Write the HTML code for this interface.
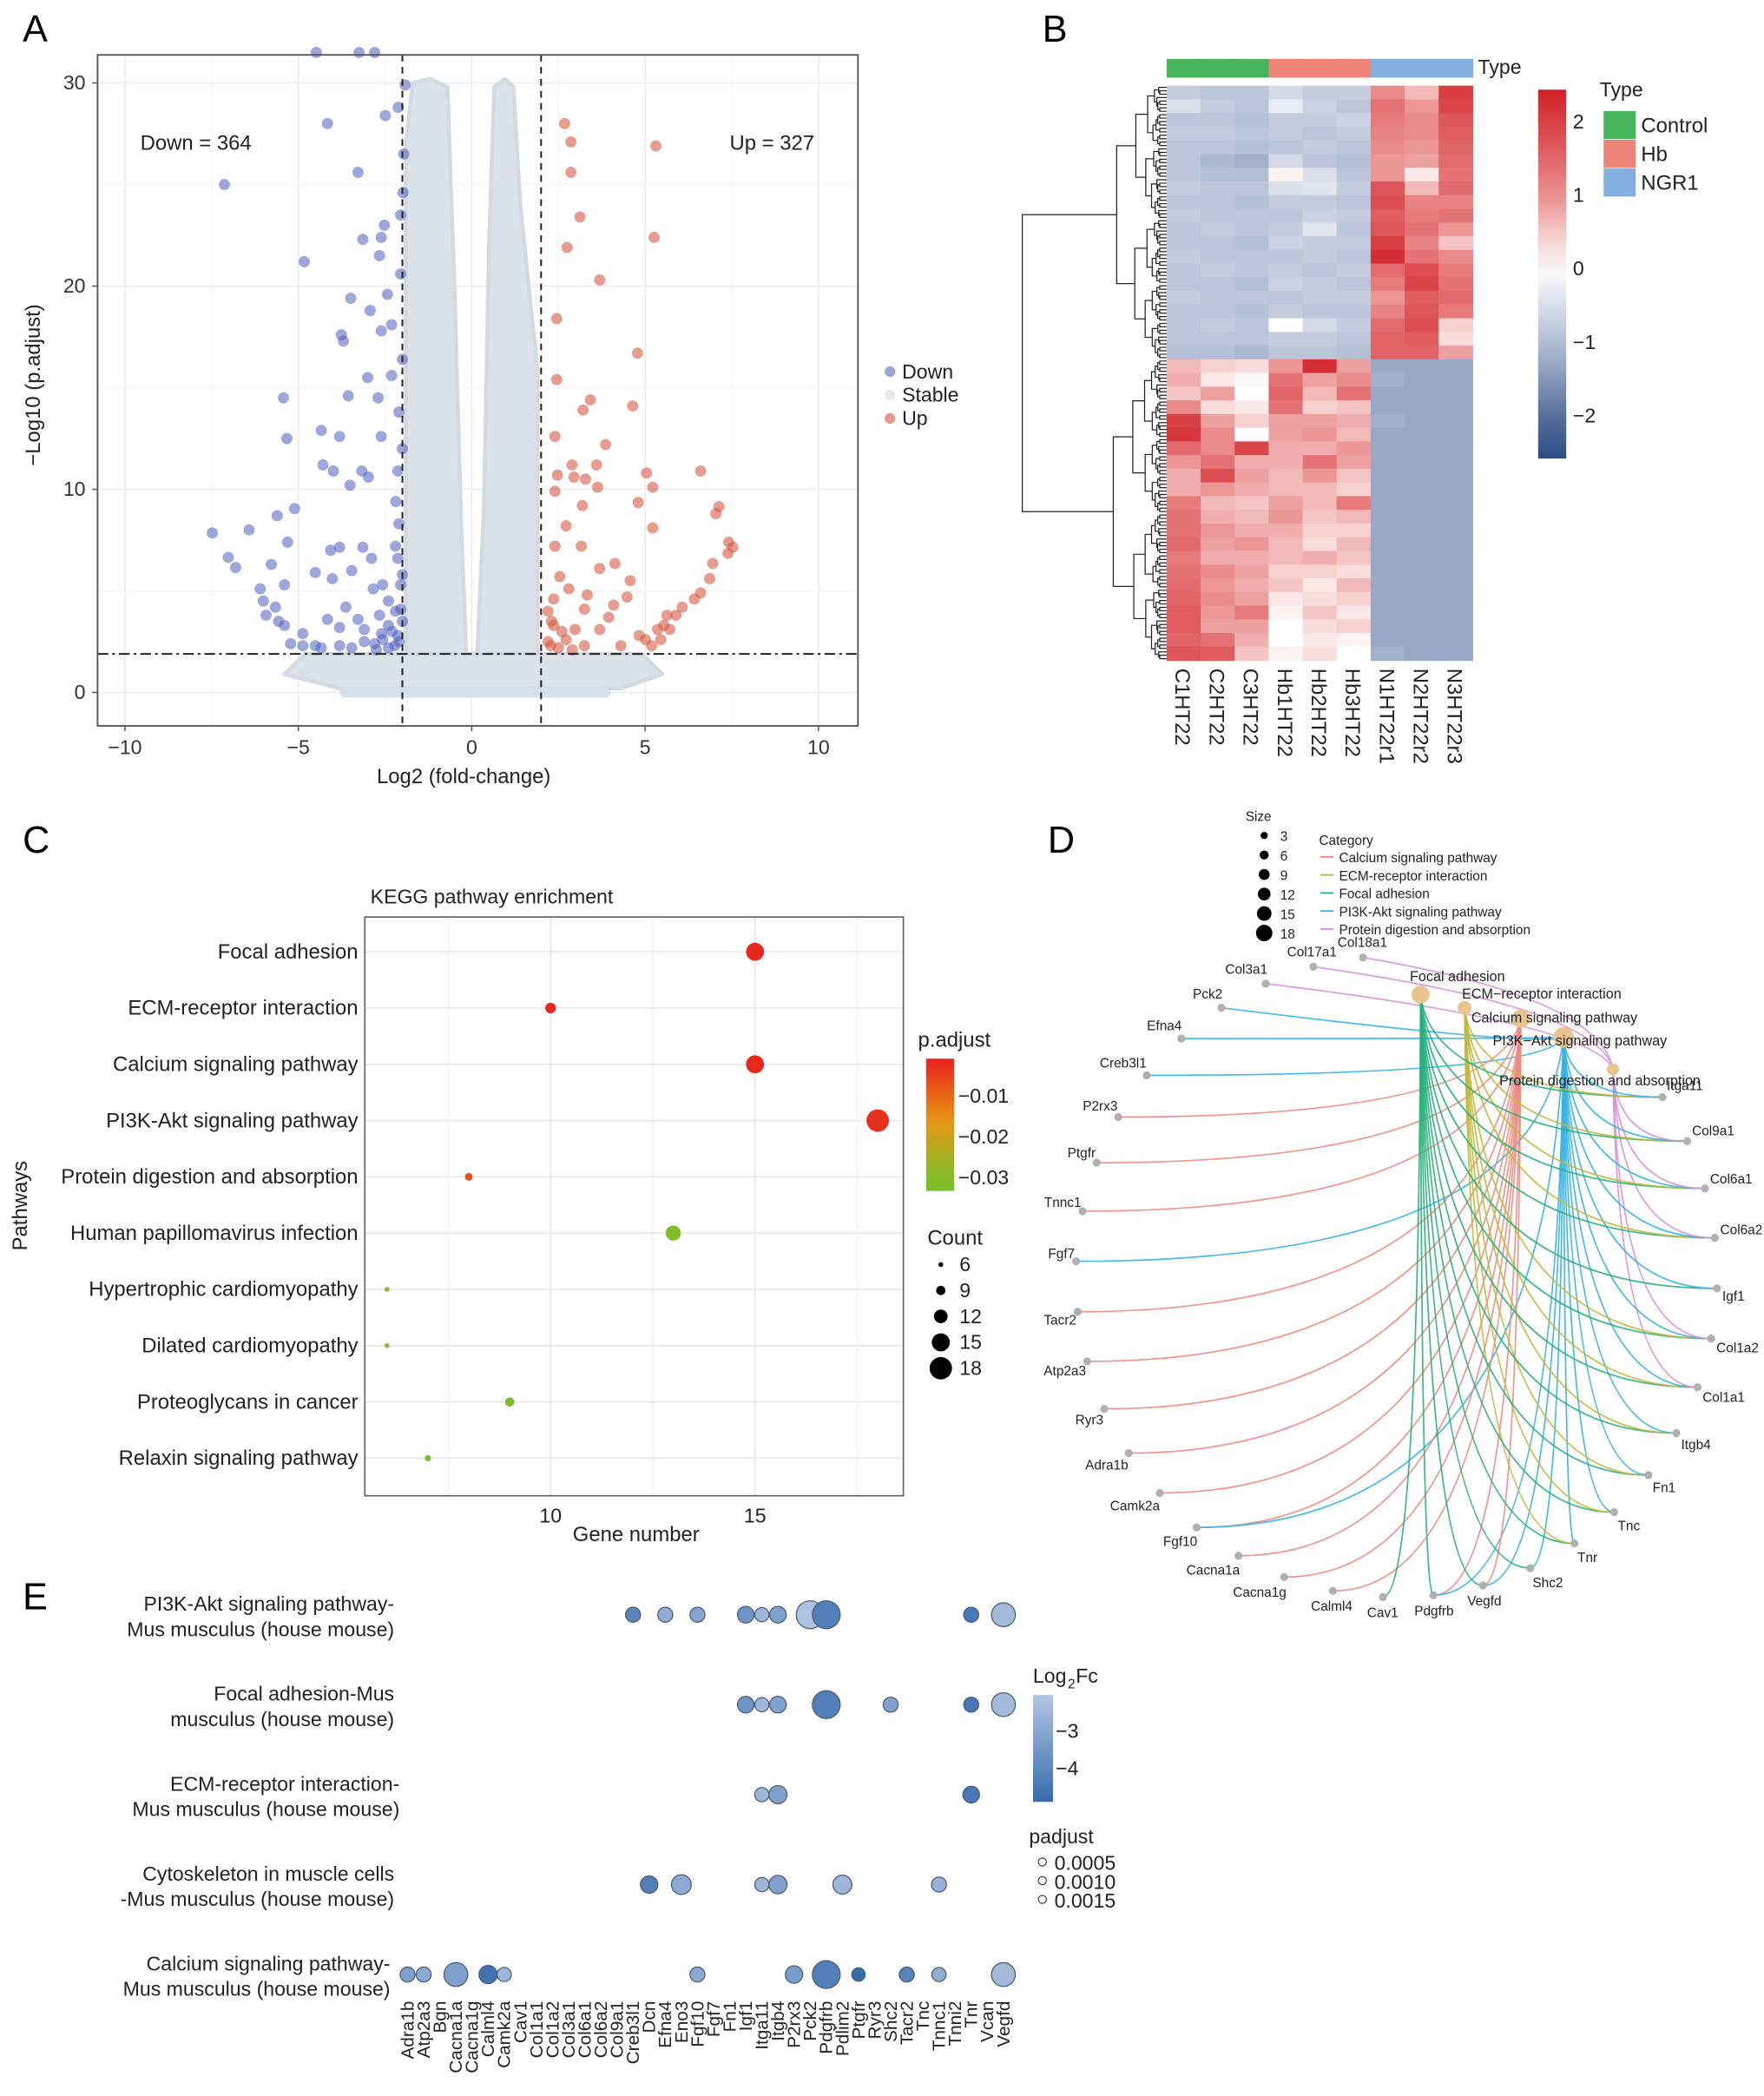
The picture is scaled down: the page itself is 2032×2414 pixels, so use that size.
<!DOCTYPE html>
<html><head><meta charset="utf-8"><style>
html,body{margin:0;padding:0;background:#fff;}
svg{display:block;font-family:"Liberation Sans",Arial,sans-serif;}
</style></head><body>
<svg id="fig" xmlns="http://www.w3.org/2000/svg" width="2032" height="2414" viewBox="0 0 1320 1568">
<rect x="0" y="0" width="1320" height="1568" fill="#fff"/>
<g font-size="28" fill="#000">
<text x="17" y="31">A</text>
<text x="780" y="31">B</text>
<text x="17" y="638">C</text>
<text x="784" y="638">D</text>
<text x="17" y="1204">E</text>
</g>
<g id="pA"></g>
<g id="pB"></g>
<g id="pC"></g>
<g id="pD"></g>
<g id="pE"></g>
</svg>
<script>
// ===== Panel A data =====
const downX=[-4.48,-3.25,-2.8,-7.13,-4.16,-3.28,-2.49,-2.12,-1.92,-1.96,-4.83,-3.14,-2.61,-2.66,-2.52,-2.05,-3.49,-2.93,-2.43,-3.76,-3.7,-2.61,-2.31,-3.0,-3.56,-2.7,-2.31,-5.43,-5.33,-4.34,-3.81,-2.61,-4.29,-3.99,-3.17,-2.98,-3.51,-2.13,-2.19,-5.11,-5.61,-6.42,-7.48,-7.02,-6.81,-5.31,-5.78,-6.1,-6.01,-5.66,-5.4,-4.51,-4.07,-3.81,-3.14,-2.89,-3.46,-4.02,-2.84,-2.57,-5.4,-4.87,-4.51,-4.16,-3.81,-3.63,-3.28,-2.66,-2.4,-2.13,-2.05,-2.13,-2.57,-3.1,-3.81,-4.87,-5.22,-5.57,-5.93,-2.75,-2.22,-2.05,-2.4,-3.1,-3.46,-4.34,-2.1,-2.3,-2.0,-2.2,-2.4,-2.6,-2.8,-2.0,-2.2,-2.1,-2.0,-2.1,-2.0,-2.05,-1.98];
const downY=[31.5,31.5,31.5,25.0,28.0,25.6,28.4,28.8,29.9,26.5,21.2,22.3,22.4,21.5,23.0,23.5,19.4,18.8,19.6,17.6,17.3,17.8,18.1,15.5,14.6,14.5,15.6,14.5,12.5,12.9,12.6,12.6,11.2,10.9,10.9,10.6,10.2,10.9,9.4,9.05,8.7,8.0,7.85,6.65,6.15,7.4,6.3,5.1,4.5,4.2,5.3,5.9,7.0,7.15,7.15,6.6,6.0,5.6,5.1,5.3,3.3,2.9,2.3,3.6,3.2,4.2,3.6,3.8,4.5,6.6,5.3,2.8,2.6,2.5,2.3,2.3,2.4,3.5,3.8,2.1,2.3,4.1,3.3,3.1,2.2,2.2,2.5,3.0,3.5,4.0,2.2,2.9,2.4,5.8,7.2,8.3,12.0,13.8,16.4,20.6,24.6];
const upX=[2.68,2.86,5.31,2.86,3.12,2.75,5.26,3.69,2.45,4.78,2.45,3.42,3.21,4.64,2.4,3.86,2.89,3.6,2.47,2.95,3.28,5.04,6.6,3.63,5.22,2.4,3.19,4.8,7.13,7.04,5.22,2.72,7.41,7.53,7.39,6.95,6.86,6.6,6.07,5.63,5.36,5.01,4.13,3.69,3.16,2.4,2.54,2.8,3.33,4.57,4.48,4.09,3.25,3.95,3.69,2.98,2.36,2.72,3.25,4.3,4.83,5.54,5.89,6.42,2.28,2.36,5.19,5.45,5.71,2.2,2.3,2.2,2.5,2.6,2.9];
const upY=[28.0,27.1,26.9,25.6,23.4,21.9,22.4,20.3,18.4,16.7,15.4,14.4,13.9,14.1,12.6,12.2,11.2,11.2,10.7,10.6,10.5,10.8,10.9,10.1,10.1,9.9,9.2,9.35,9.15,8.8,8.1,8.2,7.4,7.15,6.85,6.35,5.6,4.9,4.2,3.8,3.1,2.6,6.35,6.1,7.2,7.2,5.7,5.1,4.8,5.5,4.7,4.3,4.1,3.7,3.1,3.1,3.3,2.6,2.3,2.3,2.8,3.3,3.8,4.6,2.3,4.6,2.3,2.6,3.1,2.5,3.5,4.0,2.2,3.0,2.1];
const volXTicks=[-10,-5,0,5,10];
const volYTicks=[0,10,20,30];
const fcCut=[-2,2];
const padjCut=[1.9];
// ===== Panel B data =====
const heatSamples=["C1HT22","C2HT22","C3HT22","Hb1HT22","Hb2HT22","Hb3HT22","N1HT22r1","N2HT22r2","N3HT22r3"];
const heatGroups=["Control","Control","Control","Hb","Hb","Hb","NGR1","NGR1","NGR1"];
const heatValues=[
[-0.8,-0.9,-0.9,-0.6,-0.8,-0.8,1.0,0.6,2.0],[-0.5,-0.8,-0.9,-0.3,-0.7,-0.9,1.3,0.9,1.9],[-0.9,-0.9,-1.0,-0.8,-0.8,-0.7,1.2,1.0,1.7],[-0.8,-0.8,-0.9,-0.8,-0.9,-0.8,1.1,1.0,1.6],[-0.9,-0.9,-1.0,-0.9,-0.8,-0.9,1.0,0.9,1.5],[-0.9,-1.1,-1.2,-0.6,-0.9,-1.0,0.9,0.8,1.4],[-0.9,-1.0,-1.0,0.1,-0.5,-0.9,0.9,0.2,1.3],[-0.8,-0.9,-0.9,-0.5,-0.4,-0.8,1.7,0.6,1.4],[-0.9,-0.9,-1.0,-0.8,-0.8,-0.9,1.8,1.1,1.1],[-0.8,-0.9,-0.9,-0.9,-0.7,-0.8,1.6,1.2,1.3],[-0.9,-0.8,-0.9,-0.8,-0.4,-0.9,1.7,1.3,0.9],[-0.9,-0.9,-1.0,-0.7,-0.8,-0.8,2.0,1.1,0.5],[-0.8,-0.9,-0.9,-0.9,-0.8,-0.9,2.2,1.3,1.0],[-0.9,-0.8,-0.9,-0.8,-0.9,-0.8,1.4,1.8,1.2],[-0.9,-0.9,-1.0,-0.7,-0.8,-0.9,1.2,1.9,1.3],[-0.8,-0.9,-0.9,-0.9,-0.8,-0.8,0.9,1.6,1.4],[-0.9,-0.9,-1.0,-0.8,-0.9,-0.9,1.1,1.7,1.2],[-0.9,-0.8,-0.9,0.0,-0.6,-0.8,1.4,1.8,0.4],[-0.9,-0.9,-0.9,-0.8,-0.8,-0.9,1.5,1.6,0.3],[-1.0,-1.0,-1.1,-0.9,-0.9,-1.0,1.5,1.5,0.8],
[0.6,0.4,0.3,0.9,2.2,0.8,-1.3,-1.3,-1.3],[0.7,0.2,-0.1,1.3,0.8,1.0,-1.2,-1.3,-1.3],[0.5,0.8,0.0,1.5,0.6,1.3,-1.3,-1.3,-1.3],[1.0,0.3,0.2,1.3,0.4,0.5,-1.3,-1.3,-1.3],[2.0,0.8,0.4,0.8,0.8,0.7,-1.2,-1.3,-1.3],[2.1,1.0,0.0,0.8,0.9,0.6,-1.3,-1.3,-1.3],[1.4,1.0,1.9,0.7,0.7,0.9,-1.3,-1.3,-1.3],[0.9,1.3,0.7,0.7,1.3,0.8,-1.3,-1.3,-1.3],[0.7,1.8,0.8,0.6,0.9,0.5,-1.3,-1.3,-1.3],[0.7,0.9,0.7,0.6,0.6,0.4,-1.3,-1.3,-1.3],[1.2,0.6,0.5,0.8,0.6,1.2,-1.3,-1.3,-1.3],[1.3,0.7,0.6,0.9,0.5,0.6,-1.3,-1.3,-1.3],[1.3,0.9,0.7,0.7,0.4,0.4,-1.3,-1.3,-1.3],[1.4,0.8,0.9,0.6,0.3,0.6,-1.3,-1.3,-1.3],[1.2,0.7,0.7,0.6,0.7,0.5,-1.3,-1.3,-1.3],[1.3,1.0,0.8,0.4,0.4,0.3,-1.3,-1.3,-1.3],[1.4,0.9,0.7,0.5,0.2,0.6,-1.3,-1.3,-1.3],[1.5,1.0,0.8,0.2,0.3,0.4,-1.3,-1.3,-1.3],[1.6,0.9,1.2,0.1,0.5,0.2,-1.3,-1.3,-1.3],[1.6,0.8,0.8,0.0,0.3,0.4,-1.3,-1.3,-1.3],[1.5,1.3,0.7,0.0,0.2,0.1,-1.3,-1.3,-1.3],[1.7,1.6,0.5,0.1,0.3,0.0,-1.2,-1.3,-1.3]];
const heatTicks=[2,1,0,-1,-2];
// ===== Panel C data =====
const keggPathways=["Focal adhesion","ECM-receptor interaction","Calcium signaling pathway","PI3K-Akt signaling pathway","Protein digestion and absorption","Human papillomavirus infection","Hypertrophic cardiomyopathy","Dilated cardiomyopathy","Proteoglycans in cancer","Relaxin signaling pathway"];
const keggCounts=[15,10,15,18,8,13,6,6,9,7];
const keggPadj=[-0.002,-0.002,-0.002,-0.003,-0.007,-0.030,-0.027,-0.027,-0.031,-0.031];
const keggXTicks=[10,15];
const keggPTicks=[-0.01,-0.02,-0.03];
const keggCountLegend=[6,9,12,15,18];
// ===== Panel D data =====
const cnetCategories=["Focal adhesion","ECM−receptor interaction","Calcium signaling pathway","PI3K−Akt signaling pathway","Protein digestion and absorption"];
const cnetCatSizes=[15,10,15,18,8];
const cnetGenes=["Col18a1","Col17a1","Col3a1","Pck2","Efna4","Creb3l1","P2rx3","Ptgfr","Tnnc1","Fgf7","Tacr2","Atp2a3","Ryr3","Adra1b","Camk2a","Fgf10","Cacna1a","Cacna1g","Calml4","Cav1","Pdgfrb","Vegfd","Shc2","Tnr","Tnc","Fn1","Itgb4","Col1a1","Col1a2","Igf1","Col6a2","Col6a1","Col9a1","Itga11"];
const cnetLinks=[[4],[4],[4],[3],[3],[3],[2],[2],[2],[3],[2],[2],[2],[2],[2],[2,3],[2],[2],[2],[0],[0,2,3],[0,2,3],[0,3],[0,1,3],[0,1,3],[0,1,3],[0,1,3],[0,1,3,4],[0,1,3,4],[0,3],[0,1,3,4],[0,1,3,4],[0,1,3,4],[0,1,3]];
const cnetSizeLegend=[3,6,9,12,15,18];
// ===== Panel E data =====
const eGenes=["Adra1b","Atp2a3","Bgn","Cacna1a","Cacna1g","Calml4","Camk2a","Cav1","Col1a1","Col1a2","Col3a1","Col6a1","Col6a2","Col9a1","Creb3l1","Dcn","Efna4","Eno3","Fgf10","Fgf7","Fn1","Igf1","Itga11","Itgb4","P2rx3","Pck2","Pdgfrb","Pdlim2","Ptgfr","Ryr3","Shc2","Tacr2","Tnc","Tnnc1","Tnni2","Tnr","Vcan","Vegfd"];
const ePathways=[["PI3K-Akt signaling pathway-","Mus musculus (house mouse)"],["Focal adhesion-Mus","musculus (house mouse)"],["ECM-receptor interaction-","Mus musculus (house mouse)"],["Cytoskeleton in muscle cells","-Mus musculus (house mouse)"],["Calcium signaling pathway-","Mus musculus (house mouse)"]];
const eRowGenes=[["Creb3l1","Efna4","Fgf10","Igf1","Itga11","Itgb4","Pck2","Pdgfrb","Tnr","Vegfd"],["Igf1","Itga11","Itgb4","Pdgfrb","Shc2","Tnr","Vegfd"],["Itga11","Itgb4","Tnr"],["Dcn","Eno3","Itga11","Itgb4","Pdlim2","Tnnc1"],["Adra1b","Atp2a3","Cacna1a","Calml4","Camk2a","Fgf10","P2rx3","Pdgfrb","Ptgfr","Tacr2","Tnnc1","Vegfd"]];
const eRowFc=[[-4.2,-3.2,-3.4,-3.8,-3.0,-3.5,-2.7,-4.3,-4.5,-2.9],[-3.8,-3.0,-3.5,-4.3,-3.5,-4.5,-2.9],[-3.0,-3.5,-4.5],[-4.3,-3.3,-3.0,-3.5,-3.0,-3.1],[-3.5,-3.3,-3.5,-4.6,-3.0,-3.3,-3.6,-4.3,-4.8,-4.2,-3.2,-2.9]];
const eRowSize=[[1,1,1,1.2,0.9,1.2,2.6,2.6,1,2.1],[1.2,0.9,1.2,2.6,1,1,2.1],[0.9,1.4,1.2],[1.3,1.6,0.9,1.4,1.5,1],[1,1,2.1,1.4,0.9,1,1.3,2.6,0.8,1,0.9,2.1]];
const eFcTicks=[-3,-4];
const ePadjLegend=["0.0005","0.0010","0.0015"];

const NS="http://www.w3.org/2000/svg";
function mk(parent,tag,attrs,text){const e=document.createElementNS(NS,tag);for(const k in attrs)e.setAttribute(k,attrs[k]);if(text!==undefined)e.textContent=text;parent.appendChild(e);return e;}

// ================= PANEL A =================
(function(){
const g=document.getElementById('pA');
const X0=73,X1=642,Y0=41,Y1=543;
const sx=v=>353+v*25.95, sy=v=>518-v*15.2;
for(let v=-10;v<=10;v+=2.5){const e=mk(g,'line',{x1:sx(v),x2:sx(v),y1:Y0,y2:Y1,stroke:v%5===0?'#ebebeb':'#f5f5f5','stroke-width':1});}
for(let v=0;v<=30;v+=5){const e=mk(g,'line',{x1:X0,x2:X1,y1:sy(v),y2:sy(v),stroke:v%10===0?'#ebebeb':'#f5f5f5','stroke-width':1});}
const st='#dce2e9';
const poly=(pts,name)=>{const e=mk(g,'polygon',{points:pts.map(p=>sx(p[0])+','+sy(p[1])).join(' '),fill:st,stroke:'#d3dae2','stroke-width':3,'stroke-linejoin':'round'});};
poly([[-1.9,1.5],[-1.9,27],[-1.7,30],[-1.2,30.2],[-0.7,29.8],[-0.5,20],[-0.3,8],[-0.15,1.5]],'stable-cloud-left');
poly([[0.15,1.5],[0.35,9],[0.5,22],[0.65,29.8],[0.95,30.2],[1.2,29.8],[1.4,24],[1.7,19],[1.9,16],[1.9,1.5]],'stable-cloud-right');
poly([[-5.4,0.9],[-4.8,1.9],[4.9,1.9],[5.5,0.9],[4.3,0.2],[-3.8,0.2]],'stable-cloud-bottom');
const bb=mk(g,'rect',{x:sx(-3.8),y:sy(0)-4,width:sx(4.0)-sx(-3.8),height:8,fill:'#d6e0ea',rx:4});
downX.forEach((x,i)=>{const c=mk(g,'circle',{cx:sx(x),cy:sy(downY[i]),r:4.2,fill:'#4d5fbd','fill-opacity':0.55});});
upX.forEach((x,i)=>{const c=mk(g,'circle',{cx:sx(x),cy:sy(upY[i]),r:4.2,fill:'#d65a45','fill-opacity':0.6});});
fcCut.forEach(v=>{const l=mk(g,'line',{x1:sx(v),x2:sx(v),y1:Y0,y2:Y1,stroke:'#222','stroke-width':1.3,'stroke-dasharray':'5,4'});});
padjCut.forEach(v=>{const l=mk(g,'line',{x1:X0,x2:X1,y1:sy(v),y2:sy(v),stroke:'#222','stroke-width':1.3,'stroke-dasharray':'8,3,2,3'});});
const fr=mk(g,'rect',{x:X0,y:Y0,width:X1-X0,height:Y1-Y0,fill:'none',stroke:'#555','stroke-width':1.2});
volXTicks.forEach(v=>{mk(g,'line',{x1:sx(v),x2:sx(v),y1:Y1,y2:Y1+4,stroke:'#555'});const t=mk(g,'text',{x:sx(v),y:Y1+21,'text-anchor':'middle','font-size':15,fill:'#333'},v<0?'−'+(-v):String(v));});
volYTicks.forEach(v=>{mk(g,'line',{x1:X0-4,x2:X0,y1:sy(v),y2:sy(v),stroke:'#555'});const t=mk(g,'text',{x:X0-9,y:sy(v)+5,'text-anchor':'end','font-size':15,fill:'#333'},String(v));});
let t=mk(g,'text',{x:347,y:586,'text-anchor':'middle','font-size':15.5,fill:'#222'},'Log2 (fold-change)');
t=mk(g,'text',{x:30,y:288,'text-anchor':'middle','font-size':15.5,fill:'#222',transform:'rotate(-90 30 288)'},'−Log10 (p.adjust)');
t=mk(g,'text',{x:105,y:112,'font-size':15.5,fill:'#222'},'Down = 364');
t=mk(g,'text',{x:546,y:112,'font-size':15.5,fill:'#222'},'Up = 327');
[['Down','#9aa3da'],['Stable','#e6e9ee'],['Up','#e69a90']].forEach((d,i)=>{const c=mk(g,'circle',{cx:666,cy:278+i*17.5,r:4,fill:d[1]});const tt=mk(g,'text',{x:675,y:283+i*17.5,'font-size':15,fill:'#222'},d[0]);});
})();

// ================= PANEL B =================
const stops=[[-2.5,[44,77,131]],[-1,[181,191,213]],[0,[255,255,255]],[1,[234,138,138]],[2.4,[210,31,38]]];
function heatColor(v){if(v<=stops[0][0])return 'rgb('+stops[0][1]+')';for(let i=1;i<stops.length;i++){if(v<=stops[i][0]){const a=stops[i-1],b=stops[i],t=(v-a[0])/(b[0]-a[0]);return 'rgb('+a[1].map((c,j)=>Math.round(c+(b[1][j]-c)*t)).join(',')+')';}}return 'rgb('+stops[stops.length-1][1]+')';}
(function(){
const g=document.getElementById('pB');
const HX=873,HW=229,HY=64,HH=430;
const cw=HW/heatSamples.length,rh=HH/heatValues.length;
const gcol={Control:'#46b45b',Hb:'#ee8478',NGR1:'#82aee0'};
heatGroups.forEach((gr,j)=>{const r=mk(g,'rect',{x:HX+j*cw,y:44,width:cw+0.5,height:14,fill:gcol[gr]});});
let t=mk(g,'text',{x:1106,y:55,'font-size':15,fill:'#222'},'Type');
heatValues.forEach((row,i)=>row.forEach((v,j)=>{const r=mk(g,'rect',{x:HX+j*cw,y:HY+i*rh,width:cw+0.4,height:rh+0.4,fill:heatColor(v)});}));
// dendrogram over fine virtual leaves
const n=168, lh=HH/n, split=80;
const dg=mk(g,'g',{fill:'none',stroke:'#222','stroke-width':0.8});

function tree(a,b,depth){
 if(b-a===1){return [HY+(a+0.5)*lh,HX];}
 const m=(a===0&&b===n)?split:Math.floor((a+b)/2)+((a*7+b*3)%3-1)*(b-a>4?1:0);
 const L=tree(a,m,depth+1),R=tree(m,b,depth+1);
 const size=b-a;const x=HX-(size===n?108:3+60*Math.pow(size/n,0.75));
 mk(dg,'path',{d:`M${L[1]},${L[0]}H${x}V${R[0]}H${R[1]}`});
 return [(L[0]+R[0])/2,x];
}
tree(0,n,0);
heatSamples.forEach((s,j)=>{const x=HX+(j+0.5)*cw-6;const tt=mk(g,'text',{x:x,y:500,'font-size':15.5,fill:'#222',transform:`rotate(90 ${x} 500)`},s);});
const defs=mk(g,'defs',{});const lg=mk(defs,'linearGradient',{id:'hg',x1:0,y1:0,x2:0,y2:1});
for(let k=0;k<=10;k++){const v=2.4-k*0.5;mk(lg,'stop',{offset:(k/10),'stop-color':heatColor(v)});}
const cb=mk(g,'rect',{x:1151,y:67,width:21,height:276,fill:'url(#hg)'});
const cy=v=>201-v*55;
heatTicks.forEach(v=>{const tt=mk(g,'text',{x:1177,y:cy(v)+5,'font-size':15,fill:'#222'},v<0?'−'+(-v):String(v));});
t=mk(g,'text',{x:1197,y:72,'font-size':15,fill:'#222'},'Type');
[['Control','#46b45b'],['Hb','#ee8478'],['NGR1','#82aee0']].forEach((d,i)=>{const r=mk(g,'rect',{x:1200,y:83+i*21.5,width:24,height:21,fill:d[1]});const tt=mk(g,'text',{x:1228,y:99+i*21.5,'font-size':15.5,fill:'#222'},d[0]);});
})();

// ================= PANEL C =================
function padjColor(p){const t=Math.max(0,Math.min(1,(-p-0.001)/0.03));const a=[232,32,30],m=[232,150,20],b=[122,192,42];let c;if(t<0.5){const u=t/0.5;c=a.map((x,i)=>x+(m[i]-x)*u);}else{const u=(t-0.5)/0.5;c=m.map((x,i)=>x+(b[i]-x)*u);}return 'rgb('+c.map(Math.round).join(',')+')';}
(function(){
const g=document.getElementById('pC');
const X0=273,X1=676,Y0=686,Y1=1119;
const sx=v=>412+(v-10)*30.6, sy=i=>712+i*42.1, sr=c=>1.8+(c-6)*0.55;
let t=mk(g,'text',{x:368,y:676,'text-anchor':'middle','font-size':15,fill:'#222'},'KEGG pathway enrichment');
[7.5,10,12.5,15,17.5].forEach(v=>{const l=mk(g,'line',{x1:sx(v),x2:sx(v),y1:Y0,y2:Y1,stroke:v%5===0?'#e6e6e6':'#f2f2f2'});});
keggPathways.forEach((p,i)=>{const l=mk(g,'line',{x1:X0,x2:X1,y1:sy(i),y2:sy(i),stroke:'#e6e6e6'});
 const tt=mk(g,'text',{x:268,y:sy(i)+5,'text-anchor':'end','font-size':15.5,fill:'#222'},p);});
keggPathways.forEach((p,i)=>{const c=mk(g,'circle',{cx:sx(keggCounts[i]),cy:sy(i),r:sr(keggCounts[i]),fill:padjColor(keggPadj[i])});});
const fr=mk(g,'rect',{x:X0,y:Y0,width:X1-X0,height:Y1-Y0,fill:'none',stroke:'#666','stroke-width':1.1});
keggXTicks.forEach(v=>{const tt=mk(g,'text',{x:sx(v),y:1139,'text-anchor':'middle','font-size':15,fill:'#222'},String(v));});
t=mk(g,'text',{x:476,y:1153,'text-anchor':'middle','font-size':15.5,fill:'#222'},'Gene number');
t=mk(g,'text',{x:20,y:902,'text-anchor':'middle','font-size':15.5,fill:'#222',transform:'rotate(-90 20 902)'},'Pathways');
t=mk(g,'text',{x:687,y:783,'font-size':15.5,fill:'#222'},'p.adjust');
const defs=mk(g,'defs',{});const lg=mk(defs,'linearGradient',{id:'pg',x1:0,y1:0,x2:0,y2:1});
for(let k=0;k<=10;k++){mk(lg,'stop',{offset:k/10,'stop-color':padjColor(-0.001-0.032*k/10)});}
const cb=mk(g,'rect',{x:693,y:792,width:21,height:99,fill:'url(#pg)'});
const py=p=>820+(-p-0.01)*3050;
keggPTicks.forEach(p=>{const tt=mk(g,'text',{x:717,y:py(p)+5,'font-size':15,fill:'#222'},'−'+String(-p));});
t=mk(g,'text',{x:694,y:931,'font-size':15.5,fill:'#222'},'Count');
keggCountLegend.forEach((c,i)=>{const yy=946+i*19.4;const cc=mk(g,'circle',{cx:704,cy:yy,r:sr(c),fill:'#000'});const tt=mk(g,'text',{x:718,y:yy+5,'font-size':15,fill:'#222'},String(c));});
})();

// ================= PANEL D =================
(function(){
const g=document.getElementById('pD');
const catPos=[[1063,744],[1096,754],[1138,762],[1170,776],[1207,800]];
const catCol=['#27b07a','#c0b83a','#ee8a80','#35b2e6','#d690d6'];
const cr=s=>2+s*0.32;
const CX=1045,CY=955,R=240,a0=-96,step=298/33;
const gp=cnetGenes.map((n,i)=>{const a=(a0-i*step)*Math.PI/180;return [CX+R*Math.cos(a),CY+R*Math.sin(a),a];});
cnetGenes.forEach((n,i)=>{cnetLinks[i].forEach(c=>{const [gx,gy]=gp[i],[kx,ky]=catPos[c];const p=mk(g,'path',{d:`M${gx},${gy}Q${kx-(kx-gx)*0.05},${gy+(gy<ky?30:0)} ${kx},${ky}`,fill:'none',stroke:catCol[c],'stroke-width':1.1,'stroke-opacity':0.9});});});
cnetCategories.forEach((c,i)=>{const cc=mk(g,'circle',{cx:catPos[i][0],cy:catPos[i][1],r:cr(cnetCatSizes[i]),fill:'#e8c58e'});});
const lblPos=[[1055,734],[1094,747],[1101,765],[1117,782],[1122,812]];
cnetCategories.forEach((c,i)=>{const tt=mk(g,'text',{x:lblPos[i][0],y:lblPos[i][1],'font-size':10.5,fill:'#222'},c);});
cnetGenes.forEach((n,i)=>{const [x,y,a]=gp[i];const cc=mk(g,'circle',{cx:x,cy:y,r:3,fill:'#b0b0b0'});
 const c=Math.cos(a),s=Math.sin(a);const lx=x+c*4,ly=y+s*6+(s<0?-2:9);const anchor=c<-0.3?'end':(c>0.3?'start':'middle');
 const tt=mk(g,'text',{x:lx+(anchor==='end'?3:0),y:ly,'text-anchor':anchor,'font-size':10,fill:'#222'},n);});
let t=mk(g,'text',{x:932,y:614,'font-size':10,fill:'#222'},'Size');
cnetSizeLegend.forEach((s,i)=>{const yy=625+i*14.6;const cc=mk(g,'circle',{cx:946,cy:yy,r:2+s*0.23,fill:'#000'});const tt=mk(g,'text',{x:958,y:yy+4,'font-size':10,fill:'#222'},String(s));});
t=mk(g,'text',{x:987,y:632,'font-size':10,fill:'#222'},'Category');
const legOrder=[2,1,0,3,4];
legOrder.forEach((c,i)=>{const yy=641+i*13.5;const l=mk(g,'line',{x1:988,x2:998,y1:yy,y2:yy,stroke:catCol[c],'stroke-width':1.2});const tt=mk(g,'text',{x:1002,y:yy+4,'font-size':10,fill:'#222'},cnetCategories[c].replace('−','-'));});
})();

// ================= PANEL E =================
function fcColor(v){const t=Math.max(0,Math.min(1,(-v-2.6)/2.2));const a=[180,198,228],b=[52,108,172];return 'rgb('+a.map((x,i)=>Math.round(x+(b[i]-x)*t)).join(',')+')';}
(function(){
const g=document.getElementById('pE');
const sx=i=>305+i*12.05, sy=i=>1208+i*67.3, sr=s=>2.6+s*3;
ePathways.forEach((p,i)=>{const x=i===4?292:(i===2?299:295);p.forEach((ln,k)=>{const tt=mk(g,'text',{x:x,y:sy(i)-3+k*19,'text-anchor':'end','font-size':15,fill:'#222'},ln);});});
eRowGenes.forEach((row,i)=>row.forEach((gname,k)=>{const gi=eGenes.indexOf(gname);const c=mk(g,'circle',{cx:sx(gi),cy:sy(i),r:sr(eRowSize[i][k]),fill:fcColor(eRowFc[i][k]),stroke:'#4a5a70','stroke-width':0.8});}));
eGenes.forEach((gname,i)=>{const x=sx(i)+4.5;const tt=mk(g,'text',{x:x,y:1497,'text-anchor':'end','font-size':13.5,fill:'#222',transform:`rotate(-90 ${x} 1497)`},gname);});
let t=mk(g,'text',{x:773,y:1259,'font-size':15,fill:'#222'},'Log');
mk(g,'text',{x:799,y:1263,'font-size':10,fill:'#222'},'2');mk(g,'text',{x:805,y:1259,'font-size':15,fill:'#222'},'Fc');
const defs=mk(g,'defs',{});const lg=mk(defs,'linearGradient',{id:'eg',x1:0,y1:0,x2:0,y2:1});
mk(lg,'stop',{offset:0,'stop-color':fcColor(-2.6)});mk(lg,'stop',{offset:1,'stop-color':fcColor(-4.8)});
const cb=mk(g,'rect',{x:773,y:1268,width:15,height:80,fill:'url(#eg)'});
eFcTicks.forEach(v=>{const yy=1295+(-v-3)*28;const tt=mk(g,'text',{x:790,y:yy+5,'font-size':15,fill:'#222'},'−'+(-v));});
t=mk(g,'text',{x:770,y:1379,'font-size':15,fill:'#222'},'padjust');
ePadjLegend.forEach((s,i)=>{const yy=1393+i*14;const cc=mk(g,'circle',{cx:780,cy:yy,r:3,fill:'none',stroke:'#444','stroke-width':0.8});const tt=mk(g,'text',{x:789,y:yy+6,'font-size':15,fill:'#222'},s);});
})();
</script>
</body></html>
